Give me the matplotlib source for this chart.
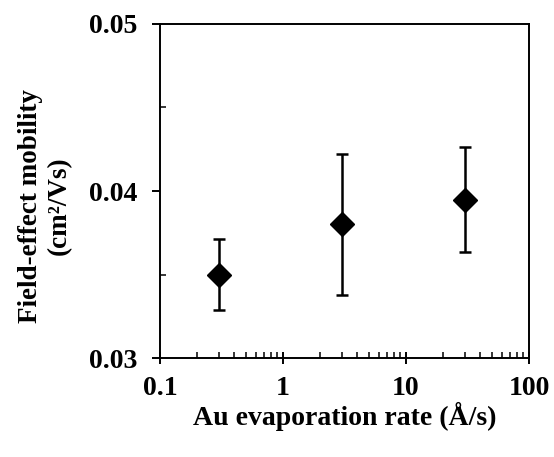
import matplotlib
matplotlib.use('Agg')
import matplotlib.pyplot as plt
from matplotlib.ticker import FixedLocator, FixedFormatter, LogLocator, NullFormatter

# data
rate = [0.3, 3, 30]
mobility = [0.0350, 0.0380, 0.03945]
err_low = [0.00214, 0.00420, 0.00312]
err_high = [0.00214, 0.00424, 0.00317]
x_ticks = [0.1, 1, 10, 100]
x_tick_labels = ['0.1', '1', '10', '100']
y_ticks = [0.03, 0.04, 0.05]
y_tick_labels = ['0.03', '0.04', '0.05']

plt.rcParams['font.family'] = 'Liberation Serif'
plt.rcParams['font.weight'] = 'bold'

fig = plt.figure(figsize=(5.54, 4.57), dpi=100)
ax = fig.add_axes([0.2888, 0.2166, 0.9549 - 0.2888, 0.9475 - 0.2166])

ax.errorbar(rate, mobility, yerr=[err_low, err_high], fmt='D', color='black',
            markersize=12.5, elinewidth=1.8, capsize=4.5, capthick=1.8)

ax.set_xscale('log')
ax.set_xlim(0.1, 100)
ax.set_ylim(0.03, 0.05)

ax.xaxis.set_major_locator(FixedLocator(x_ticks))
ax.xaxis.set_major_formatter(FixedFormatter(x_tick_labels))
ax.xaxis.set_minor_locator(LogLocator(base=10, subs=range(2, 10), numticks=20))
ax.xaxis.set_minor_formatter(NullFormatter())
ax.yaxis.set_major_locator(FixedLocator(y_ticks))
ax.yaxis.set_major_formatter(FixedFormatter(y_tick_labels))
ax.yaxis.set_minor_locator(FixedLocator([0.035, 0.045]))

for s in ax.spines.values():
    s.set_linewidth(1.4)

ax.tick_params(axis='x', which='major', direction='inout', length=9, width=1.4,
               labelsize=20, pad=8.5)
ax.tick_params(axis='x', which='minor', direction='in', length=4.5, width=1.1)
ax.tick_params(axis='y', which='major', direction='out', length=6, width=1.4,
               labelsize=20, pad=10)
ax.tick_params(axis='y', which='minor', direction='in', length=4.5, width=1.1)

ax.set_xlabel('Au evaporation rate (Å/s)', fontsize=20, fontweight='bold', labelpad=0.5)
ax.set_ylabel('Field-effect mobility\n(cm²/Vs)', fontsize=19.5, fontweight='bold')
ax.yaxis.set_label_coords(-0.24, 0.455)

fig.savefig('out.png', dpi=100)
